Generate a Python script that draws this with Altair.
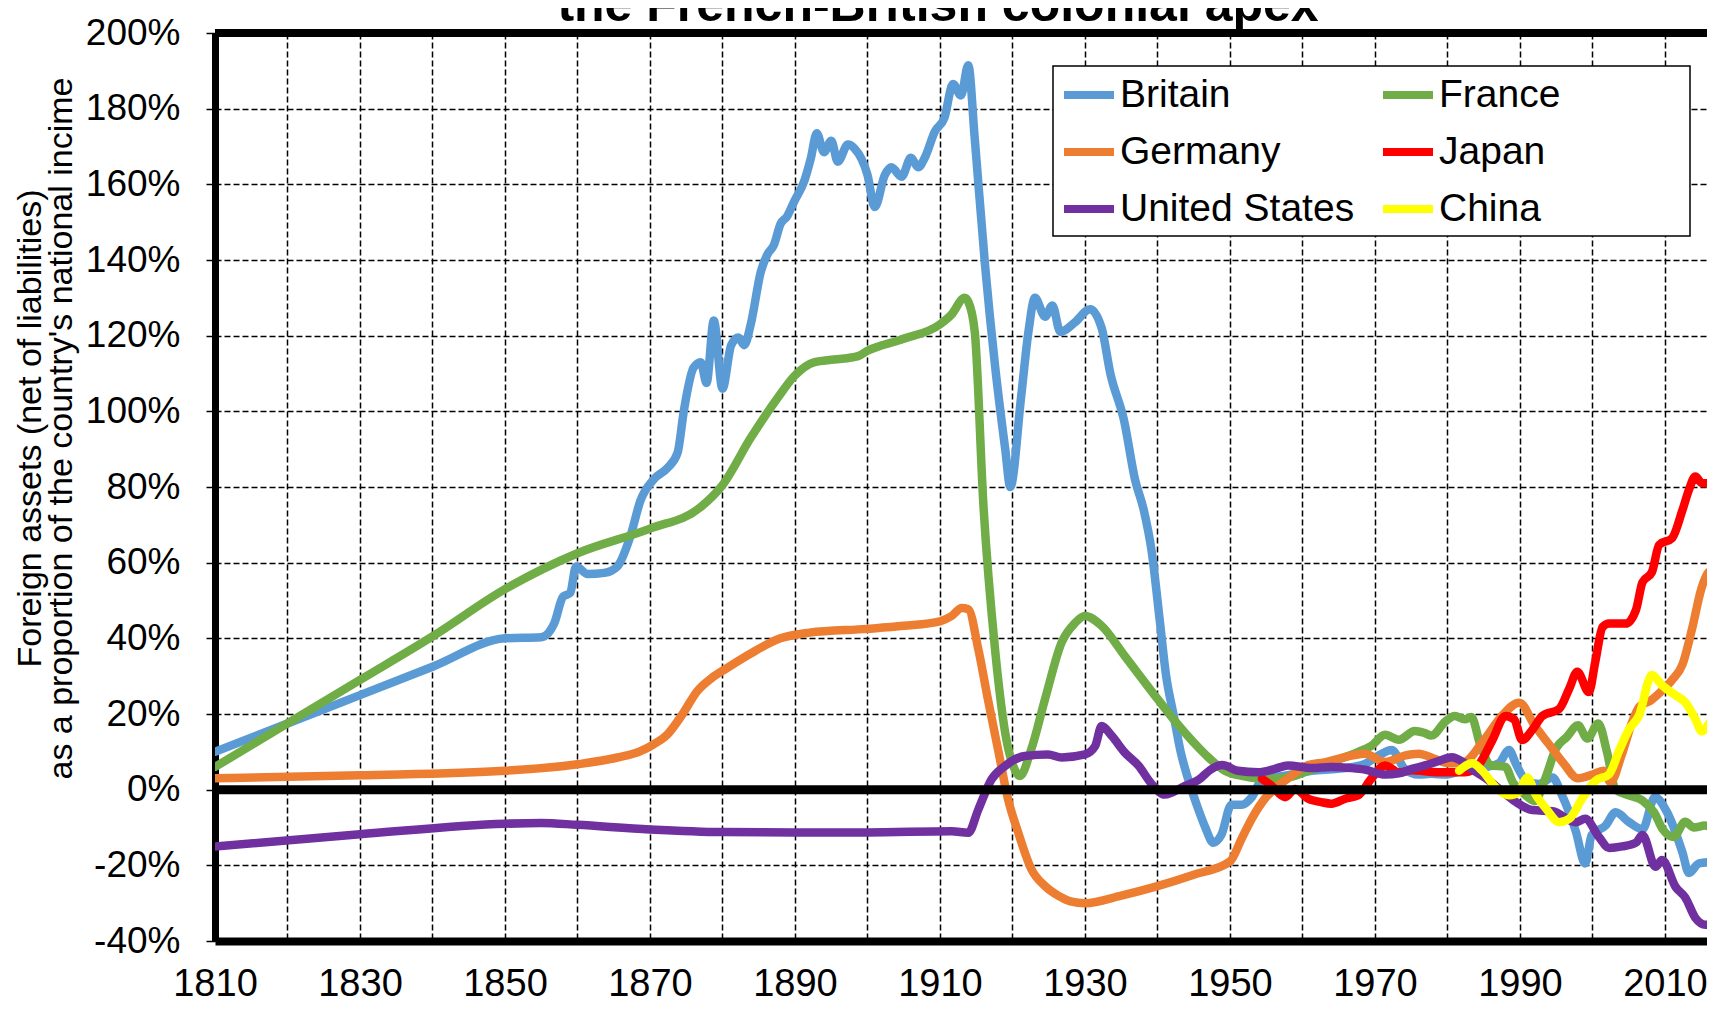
import altair as alt
import pandas as pd

countries = ["Britain", "France", "Germany", "Japan", "United States", "China"]
colors = ["#5B9BD5", "#70AD47", "#ED7D31", "#FF0000", "#7030A0", "#FFFF00"]

britain_years = [1810, 1820, 1830, 1840, 1850, 1855, 1856.8, 1858, 1859, 1859.8, 1861.4, 1863.7, 1865.5, 1867.3,
                 1868.7, 1870.5, 1872.4, 1873.8, 1874.7, 1876, 1877, 1877.8, 1878.8, 1880, 1881.2, 1882.2, 1883,
                 1883.9, 1885.3, 1886.2, 1887.1, 1888, 1888.9, 1889.9, 1891.3, 1892.2, 1893, 1894, 1895, 1895.9,
                 1897.3, 1898.2, 1900, 1901, 1902.4, 1903.3, 1904.7, 1906, 1907, 1907.9, 1909.3, 1910.6, 1911.8,
                 1912.9, 1913.9, 1914.8, 1916.2, 1917.6, 1919, 1919.7, 1921.2, 1922.2, 1923.1, 1924.5, 1925.5,
                 1926.6, 1928.6, 1930.7, 1932.3, 1933.5, 1935.4, 1936.9, 1938.1, 1939.2, 1940.3, 1941.2, 1942.2,
                 1943.2, 1944.2, 1945.6, 1946.6, 1947.7, 1948.8, 1950.2, 1951.6, 1953, 1954.4, 1957.6, 1961.3,
                 1964.9, 1968.6, 1970.5, 1972.3, 1974.1, 1976, 1977.8, 1979.7, 1982, 1985.3, 1987.1, 1988.5,
                 1989.4, 1990.8, 1992.6, 1994.5, 1995.8, 1997.7, 1999, 1999.9, 2001.8, 2003.2, 2005, 2006.9,
                 2008.6, 2010.3, 2012.4, 2013.3, 2014.7, 2017.2]
britain_vals = [10, 17.5, 25, 32.5, 40, 40.3, 44, 51, 52, 59, 57, 57.3, 59, 67,
                76.5, 82, 85, 89, 100.5, 111.5, 113, 107.5, 124, 106, 117.5, 119.5, 117.5,
                123, 137, 141.5, 144, 149.5, 151.5, 155.5, 161, 167, 173.5, 168.5, 171.5, 166,
                170.5, 169.5, 162.5, 154, 162.5, 164.5, 162, 167, 164.5, 167, 174, 177.5, 186.5,
                183.5, 191.5, 172, 139, 112, 90, 80, 104, 121, 130, 125, 128,
                121, 123.5, 127, 122, 110, 97.5, 82, 74, 63, 45, 30, 20,
                10, 3, -5, -10, -14, -12, -4, -4, -2, 2.5, 3.7, 5,
                5.5, 6.8, 9, 10.5, 5.5, 4, 4.2, 4, 5, 6, 7, 10.5,
                7, 2.5, 1.5, 3.2, -1.5, -11, -19.5, -12, -9.5, -6, -8.5, -10.5,
                -2, -6, -16.5, -22, -19.5, -19]

france_years = [1810, 1820, 1830, 1840, 1850, 1860, 1870, 1877, 1880, 1883.9, 1887.6, 1889.9, 1892.7, 1895.4,
                1898.7, 1900, 1904.7, 1910, 1911.6, 1913.4, 1913.9, 1914.8, 1916, 1917.6, 1919, 1920.1, 1921,
                1922.6, 1924.5, 1926.8, 1928.6, 1930, 1932.3, 1935.5, 1939.2, 1942.9, 1946.5, 1949.3, 1952,
                1955, 1958, 1960.3, 1964, 1967.7, 1969.5, 1971.4, 1973.3, 1975.5, 1976.8, 1977.8, 1979.7, 1981,
                1982.4, 1983.3, 1984.5, 1986, 1988, 1989, 1990.5, 1992, 1993.5, 1995, 1996.5, 1998, 1999.3,
                2000.8, 2002, 2003.2, 2005, 2007, 2008.5, 2009.7, 2011.2, 2012.8, 2014, 2015.5, 2017]
france_vals = [6, 17.5, 29, 40.5, 53, 62.5, 69, 74.7, 80.5, 93, 103.5, 109.3, 113, 113.7,
               114.6, 116, 119, 123, 125.6, 130, 129, 121, 75, 37, 15, 6.3, 3.6,
               10.7, 24, 39, 44, 45.9, 43.3, 35.3, 26, 17, 9.5, 5, 3.5,
               2.8, 3.2, 4.6, 7.3, 10, 11.6, 14.5, 13.2, 15.5, 15, 14.3, 18, 19.5,
               18.6, 19.2, 12, 6.5, 6, 2, -1, -3, 3, 11, 14, 17, 13.5,
               17.5, 10, 0, -1.5, -3, -6, -10.5, -12.5, -8.5, -10, -9.5, -10.5]

germany_years = [1810, 1830, 1850, 1860, 1865.5, 1868.7, 1870.5, 1872.4, 1874.5, 1876.5, 1878.5, 1880.5, 1883.9,
                 1888, 1892, 1900, 1905, 1910, 1911.6, 1913, 1913.9, 1915.3, 1916.6, 1918, 1919.4, 1920.8,
                 1922.6, 1924.5, 1926.3, 1928, 1930, 1935, 1940, 1945, 1950, 1951.6, 1953, 1954.8, 1956.7,
                 1958.5, 1960.8, 1963, 1966.8, 1968.6, 1971.4, 1974.1, 1976, 1978.3, 1980, 1982, 1985, 1987.5,
                 1989.9, 1992, 1994, 1996, 1998, 2000, 2001.5, 2002.5, 2004, 2005.5, 2006.5, 2008, 2009.5,
                 2011, 2012.4, 2013.8, 2015, 2016, 2017.2]
germany_vals = [3, 3.8, 5, 6.7, 8.5, 10.2, 12, 14.6, 20, 26, 29.5, 32, 36,
                40, 41.5, 42.5, 43.3, 44.5, 45.9, 48, 47.7, 37, 24, 10.7, -2.6, -11.4,
                -21, -25.5, -28, -29.5, -30, -28, -25.5, -22.5, -19, -13, -7.7, -2.4, 1.1,
                3.7, 6.5, 7.2, 9, 9.5, 7.3, 9, 9.5, 8.1, 7, 7, 13, 19.5,
                23, 17, 12, 7, 3, 4, 5, 2, 9, 18, 22, 23.5, 26,
                29, 33, 43, 53, 57.5, 58.5]

japan_years = [1954.4, 1955.7, 1957.6, 1959, 1960.8, 1962.6, 1964, 1965.9, 1967.7, 1969.5, 1971.4, 1973.3,
               1975.1, 1978.7, 1980.6, 1982.4, 1983.3, 1984.4, 1986.2, 1988, 1989.2, 1990.3, 1991.7, 1993.1,
               1995.4, 1996.8, 1997.9, 1999.5, 2000.4, 2001.4, 2002.3, 2004.6, 2006, 2006.9, 2008.2, 2009.2,
               2011, 2012.4, 2013.3, 2014.2, 2015.1, 2017.2]
japan_vals = [2.9, 1.1, -2, 0.2, -2.4, -3.3, -3.7, -2.4, -1.5, 2.9, 6.4, 4.6,
              5.1, 4.6, 4.6, 4.6, 5, 6.8, 13.1, 19.5, 18.6, 13.1, 15.8, 19.5,
              21.3, 26.7, 31.2, 25.8, 33.9, 43, 43.9, 43.9, 47.5, 54.8, 57.5, 64.7,
              66.5, 73.8, 79.2, 82.8, 81, 81]

us_years = [1810, 1830, 1850, 1855, 1860, 1870, 1880, 1890, 1900, 1911.6, 1913.9, 1915.3, 1917.1, 1919,
            1921.7, 1924.9, 1926.8, 1930, 1931.4, 1932.3, 1933.7, 1935.5, 1937.4, 1939.2, 1941, 1943.8,
            1945.6, 1947.5, 1948.9, 1951.1, 1953.9, 1956.2, 1958, 1961.3, 1964, 1966.8, 1968.6, 1971.4,
            1973.3, 1975.1, 1976.9, 1978.7, 1980.6, 1982, 1983.3, 1985.3, 1987.6, 1989.4, 1991.7, 1994.5,
            1997.7, 1999, 2000.9, 2002.3, 2004.1, 2006, 2006.9, 2008.7, 2009.6, 2011.5, 2012.8, 2014.2,
            2015.6, 2017.2]
us_vals = [-15, -11.8, -9, -8.8, -9.3, -10.5, -11.2, -11.3, -11.3, -11, -11.4, -5.2, 2.7, 6.3,
           8.9, 9.3, 8.5, 9.3, 11.5, 16.8, 14.2, 9.8, 6.3, 1.5, -1.3, 1,
           2.5, 5.5, 6.5, 5, 4.6, 5.5, 6.4, 5.7, 6, 5.7, 5.3, 4,
           4.3, 5.5, 6.4, 7.5, 8.6, 7.5, 5.5, 3, -0.5, -3.2, -5.4, -5.7,
           -8.6, -7.7, -12.5, -15.4, -15, -14, -12, -20.4, -18.6, -25.8, -28.5, -33.9,
           -35.7, -35.5]

china_years = [1981.6, 1983.4, 1984.8, 1986.7, 1988.5, 1989.9, 1991, 1992.2, 1993.6, 1995.4, 1996.8, 1998.6,
               2000.4, 2002.3, 2003.7, 2005, 2006.4, 2008.2, 2009.6, 2011.5, 2012.8, 2014.2, 2015.1, 2016.1,
               2017.2]
china_vals = [5, 7, 5, 0.5, -1.5, -0.5, 3.2, -1.4, -5, -8.6, -7.7, -2.3,
              2.3, 4.1, 10.4, 15.8, 19.5, 30.3, 27.6, 24.9, 23.1, 18.6, 15.4, 17.6,
              21.3]

x_ticks = list(range(1810, 2011, 10))
y_ticks = list(range(-40, 201, 20))

title_text = "the French-British colonial apex"
y_title = ["Foreign assets (net of liabilities)", "as a proportion of the country's national incime"]

series = {
    "Britain": (britain_years, britain_vals),
    "France": (france_years, france_vals),
    "Germany": (germany_years, germany_vals),
    "Japan": (japan_years, japan_vals),
    "United States": (us_years, us_vals),
    "China": (china_years, china_vals),
}

FONT = "Liberation Sans, Arial"

x_scale = alt.Scale(domain=[1810, 2015.8], nice=False, zero=False)
y_scale = alt.Scale(domain=[-40, 200], nice=False, zero=False)

x_axis = alt.Axis(values=x_ticks, labelExpr="datum.value % 20 == 10 ? datum.value : ''", title=None,
                  grid=True, gridDash=[6, 3], gridColor="black", gridWidth=1.5, gridOpacity=1,
                  ticks=False, domainColor="black", domainWidth=8,
                  labelFont=FONT, labelFontSize=38, labelColor="black", labelPadding=24,
                  labelFlush=False, labelOverlap=False)
y_axis = alt.Axis(values=y_ticks, labelExpr="datum.value + '%'", title=y_title,
                  grid=True, gridDash=[6, 3], gridColor="black", gridWidth=1.5, gridOpacity=1,
                  tickSize=9, tickWidth=1.5, tickColor="black", domainColor="black", domainWidth=7,
                  labelFont=FONT, labelFontSize=37, labelColor="black", labelPadding=26,
                  labelFlush=False, labelOverlap=False,
                  titleFont=FONT, titleFontSize=34, titleFontWeight="normal", titleColor="black",
                  titleAngle=270, titleX=-185, titleY=395, titleAlign="center", titleBaseline="middle",
                  titleLineHeight=31)

legend = alt.Legend(orient="none", legendX=845, legendY=33, columns=2, direction="horizontal", title=None,
                    symbolType="stroke", symbolSize=2500, symbolStrokeWidth=8,
                    labelFont=FONT, labelFontSize=39, labelColor="black", labelOffset=2, labelLimit=500,
                    columnPadding=12, rowPadding=8, padding=0)

color_scale = alt.Scale(domain=countries, range=colors)

rows = []
for c in countries:
    yrs, vals = series[c]
    for yv, vv in zip(yrs, vals):
        rows.append({"country": c, "year": yv, "value": vv})
df = pd.DataFrame(rows)

layers = []
layers.append(
    alt.Chart(pd.DataFrame({"v": [200]})).mark_rule(color="black", strokeWidth=8).encode(
        y=alt.Y("v:Q", scale=y_scale, axis=y_axis))
)
for c in countries:
    sub = df[df["country"] == c]
    layers.append(
        alt.Chart(sub).mark_line(strokeWidth=8.5, interpolate="monotone", strokeCap="round",
                                 strokeJoin="round", clip=True).encode(
            x=alt.X("year:Q", scale=x_scale, axis=x_axis),
            y=alt.Y("value:Q", scale=y_scale, axis=y_axis),
            color=alt.Color("country:N", scale=color_scale, legend=legend),
        )
    )
layers.append(
    alt.Chart(pd.DataFrame({"v": [0]})).mark_rule(color="black", strokeWidth=9).encode(
        y=alt.Y("v:Q", scale=y_scale))
)
layers.append(
    alt.Chart(pd.DataFrame({"t": [0]})).mark_rect(fill="white", stroke="black", strokeWidth=1.5).encode(
        x=alt.value(838), x2=alt.value(1475), y=alt.value(33), y2=alt.value(203))
)
layers.append(
    alt.Chart(pd.DataFrame({"t": [title_text]})).mark_text(
        font=FONT, fontSize=50, fontWeight="bold", color="black", align="center",
        baseline="alphabetic").encode(text="t:N", x=alt.value(723), y=alt.value(-12))
)

chart = alt.layer(*layers).properties(
    width=1492, height=908,
    autosize=alt.AutoSizeParams(type="none"),
    padding={"left": 207, "top": 25, "right": 0, "bottom": 61},
).configure_view(stroke=None).configure(background="white")

chart.save("out.html", embed_options={"renderer": "svg", "actions": False})
